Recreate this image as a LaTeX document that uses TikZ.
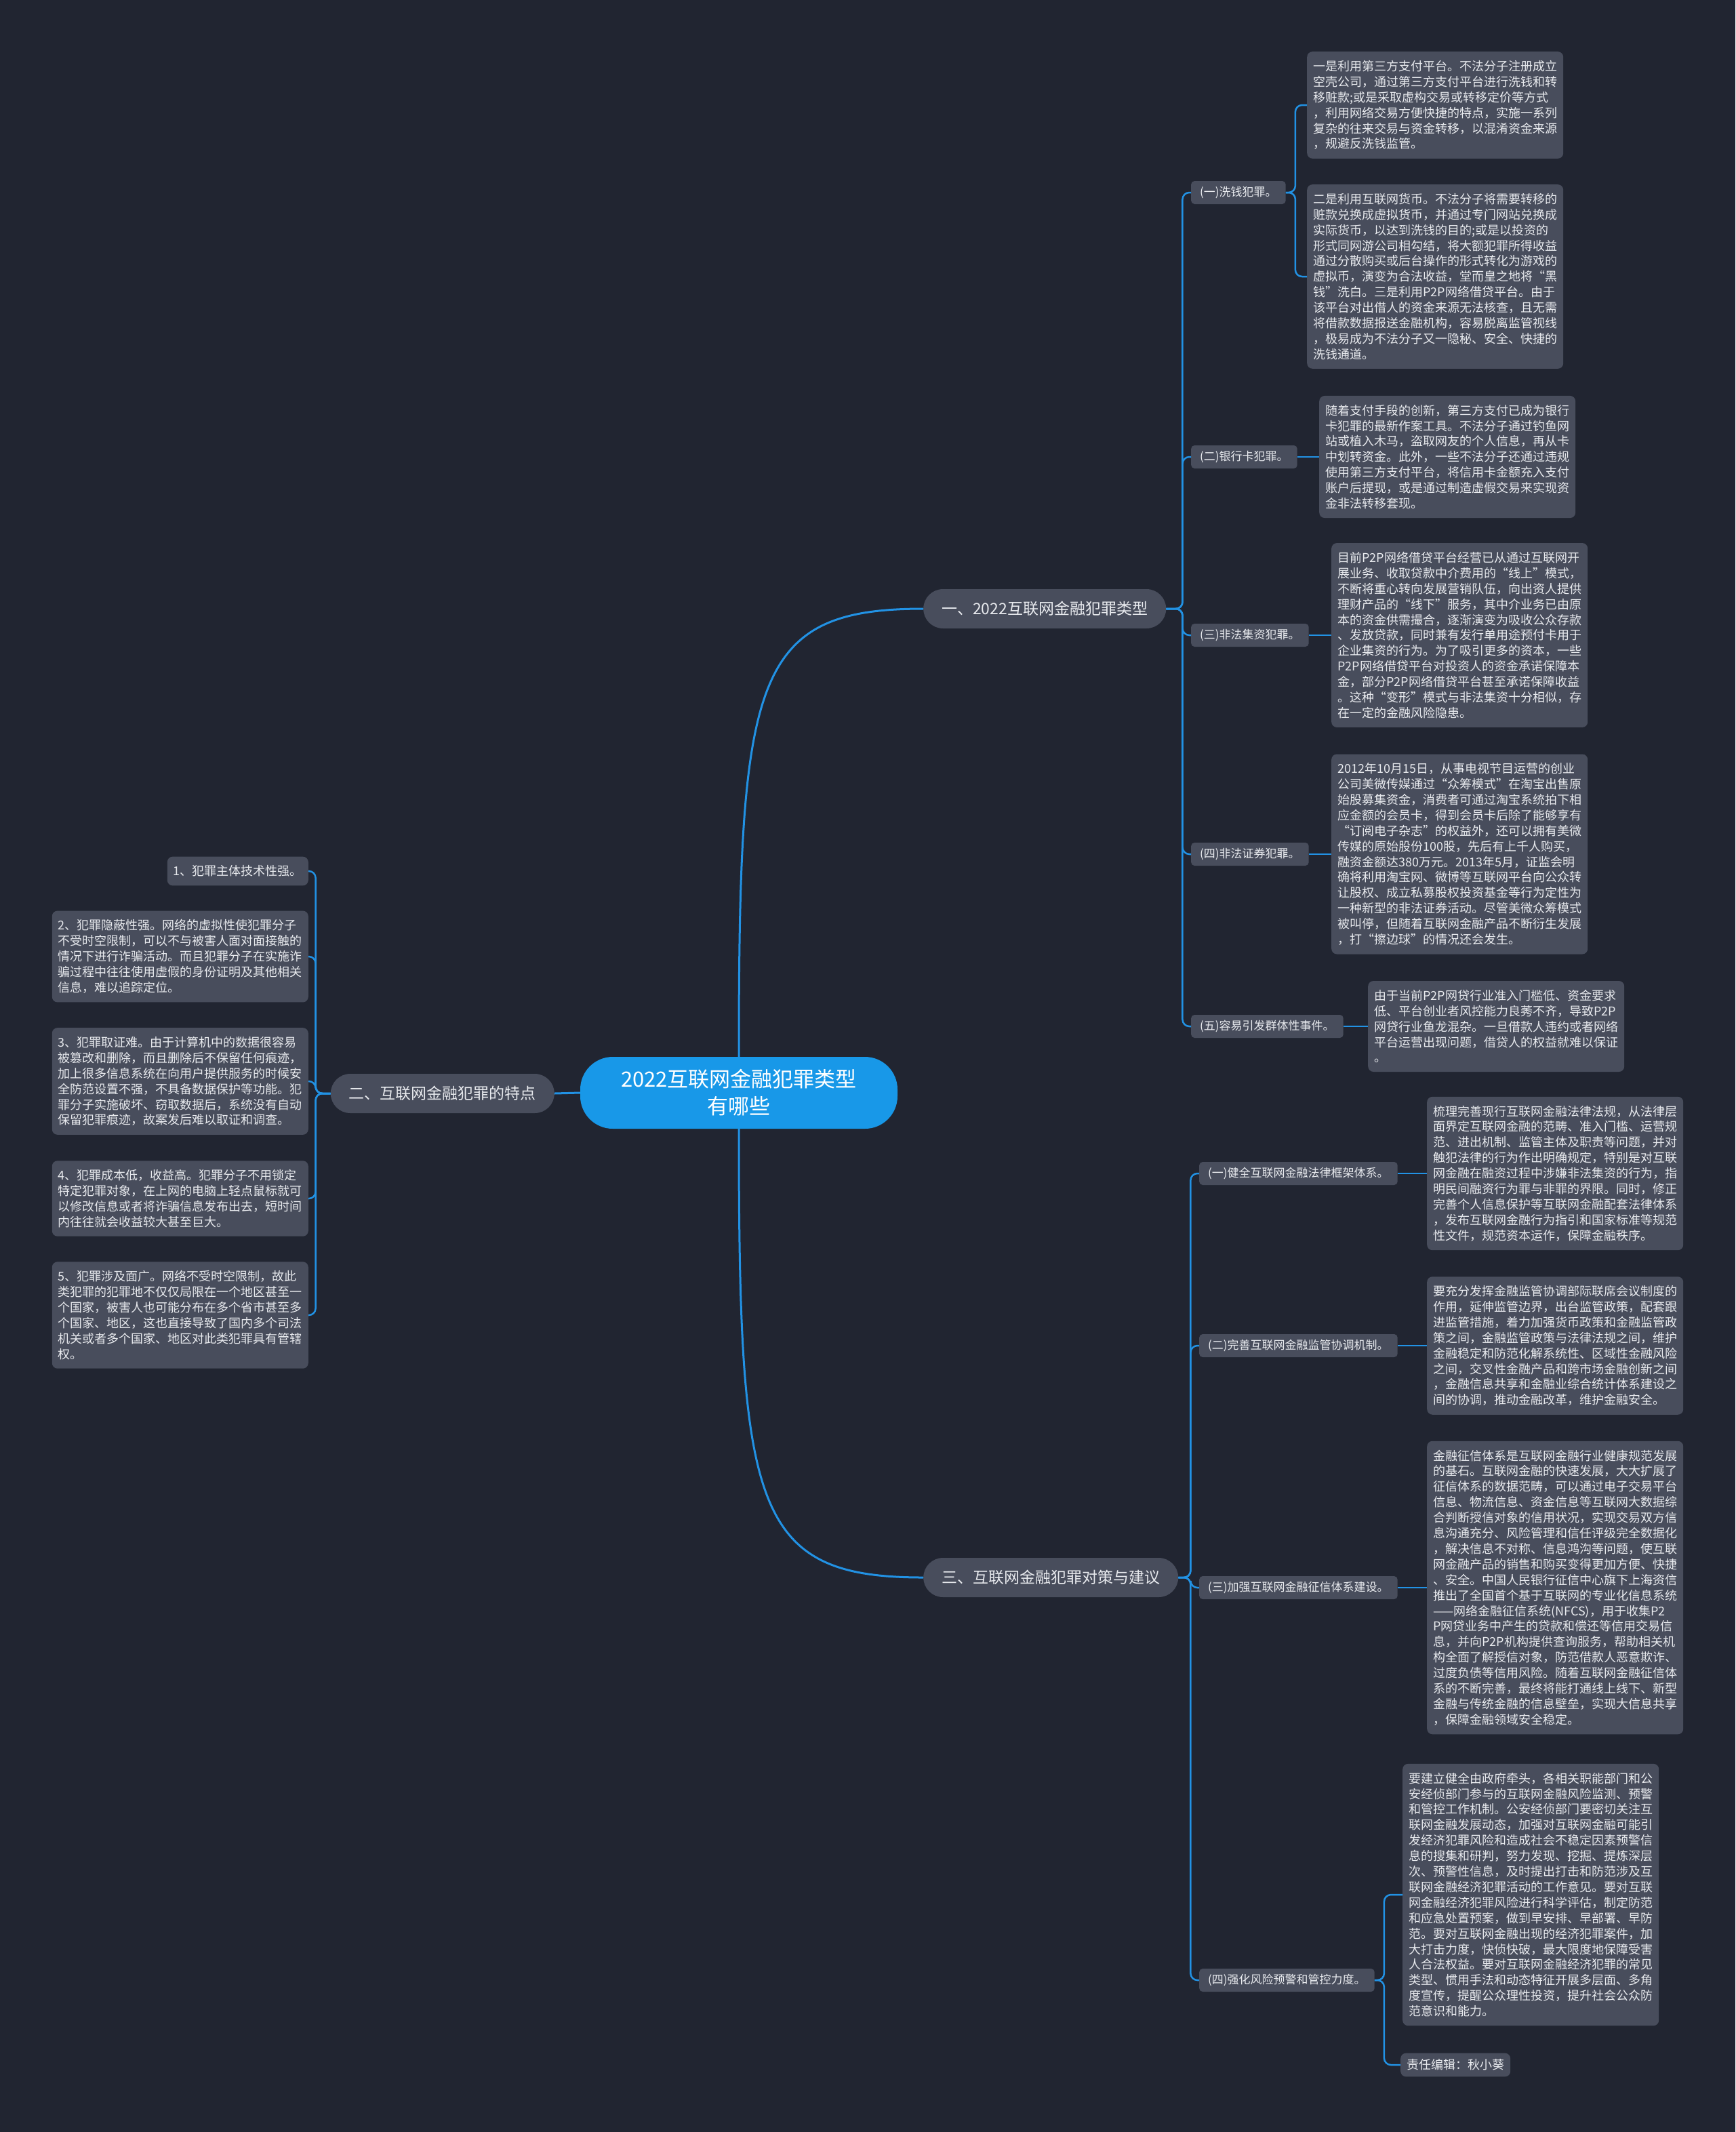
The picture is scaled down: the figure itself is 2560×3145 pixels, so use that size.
\documentclass[tikz,border=0pt]{standalone}
\usepackage{fontspec}
\setmainfont{Noto Sans CJK SC}

\definecolor{bgdark}{RGB}{33,37,49}
\definecolor{boxgray}{RGB}{72,77,92}
\definecolor{rootblue}{RGB}{24,152,232}
\definecolor{linkblue}{RGB}{34,146,228}
\definecolor{txtlight}{RGB}{232,234,238}

\tikzset{
  root/.style={fill=rootblue, text=white, rounded corners=48pt,
    minimum width=468pt, minimum height=106pt, align=center,
    font=\fontsize{31}{40}\selectfont},
  branch/.style={fill=boxgray, text=txtlight, rounded corners=29pt,
    minimum height=58pt, inner xsep=27pt, font=\fontsize{23}{28}\selectfont},
  topic/.style={fill=boxgray, text=txtlight, rounded corners=5pt,
    minimum height=34pt, inner xsep=13pt, font=\fontsize{17}{20}\selectfont},
  card/.style={fill=boxgray, text=txtlight, rounded corners=8pt,
    inner xsep=9pt, inner ysep=13pt, align=left,
    font=\fontsize{18}{22.9}\selectfont},
  leaf/.style={card, text width=360pt},
  link/.style={draw=linkblue, line width=3pt},
  twig/.style={draw=linkblue, line width=2.5pt, rounded corners=10pt},
}

\begin{document}
\begin{tikzpicture}[x=1pt,y=-1pt]

  % ---- canvas ----
  \fill[bgdark] (0,0) rectangle (2560,3145);
  \useasboundingbox (0,0) rectangle (2560,3145);

  % ---- centre and main branches ----
  \node[root] (root) at (1090,1612) {2022互联网金融犯罪类型\\有哪些};
  \node[branch, anchor=west] (types) at (1362,898) {一、2022互联网金融犯罪类型};
  \node[branch, anchor=east] (traits) at (818,1613) {二、互联网金融犯罪的特点};
  \node[branch, anchor=west] (advice) at (1362,2327) {三、互联网金融犯罪对策与建议};

  \draw[link] (root.north) .. controls (1090,1000) and (1110,898) .. (types.west);
  \draw[link] (root.south) .. controls (1090,2225) and (1110,2327) .. (advice.west);
  \draw[link] (root.west) -- (traits.east);

  % ---- branch one: crime types ----
  \node[topic, anchor=west] (launder) at (1757,284) {(一)洗钱犯罪。};
  \node[topic, anchor=west] (card) at (1757,674) {(二)银行卡犯罪。};
  \node[topic, anchor=west] (fund) at (1757,937) {(三)非法集资犯罪。};
  \node[topic, anchor=west] (stock) at (1757,1260) {(四)非法证券犯罪。};
  \node[topic, anchor=west] (crowd) at (1757,1514) {(五)容易引发群体性事件。};

  \node[leaf, anchor=west] (launderA) at (1928,155) {一是利用第三方支付平台。不法分子注册成立\\
空壳公司，通过第三方支付平台进行洗钱和转\\
移赃款;或是采取虚构交易或转移定价等方式\\
，利用网络交易方便快捷的特点，实施一系列\\
复杂的往来交易与资金转移，以混淆资金来源\\
，规避反洗钱监管。};
  \node[leaf, anchor=west] (launderB) at (1928,408) {二是利用互联网货币。不法分子将需要转移的\\
赃款兑换成虚拟货币，并通过专门网站兑换成\\
实际货币，以达到洗钱的目的;或是以投资的\\
形式同网游公司相勾结，将大额犯罪所得收益\\
通过分散购买或后台操作的形式转化为游戏的\\
虚拟币，演变为合法收益，堂而皇之地将“黑\\
钱”洗白。三是利用P2P网络借贷平台。由于\\
该平台对出借人的资金来源无法核查，且无需\\
将借款数据报送金融机构，容易脱离监管视线\\
，极易成为不法分子又一隐秘、安全、快捷的\\
洗钱通道。};
  \node[leaf, anchor=west] (cardText) at (1946,674) {随着支付手段的创新，第三方支付已成为银行\\
卡犯罪的最新作案工具。不法分子通过钓鱼网\\
站或植入木马，盗取网友的个人信息，再从卡\\
中划转资金。此外，一些不法分子还通过违规\\
使用第三方支付平台，将信用卡金额充入支付\\
账户后提现，或是通过制造虚假交易来实现资\\
金非法转移套现。};
  \node[leaf, anchor=west] (fundText) at (1964,937) {目前P2P网络借贷平台经营已从通过互联网开\\
展业务、收取贷款中介费用的“线上”模式，\\
不断将重心转向发展营销队伍，向出资人提供\\
理财产品的“线下”服务，其中介业务已由原\\
本的资金供需撮合，逐渐演变为吸收公众存款\\
、发放贷款，同时兼有发行单用途预付卡用于\\
企业集资的行为。为了吸引更多的资本，一些\\
P2P网络借贷平台对投资人的资金承诺保障本\\
金，部分P2P网络借贷平台甚至承诺保障收益\\
。这种“变形”模式与非法集资十分相似，存\\
在一定的金融风险隐患。};
  \node[leaf, anchor=west] (stockText) at (1964,1260) {2012年10月15日，从事电视节目运营的创业\\
公司美微传媒通过“众筹模式”在淘宝出售原\\
始股募集资金，消费者可通过淘宝系统拍下相\\
应金额的会员卡，得到会员卡后除了能够享有\\
“订阅电子杂志”的权益外，还可以拥有美微\\
传媒的原始股份100股，先后有上千人购买，\\
融资金额达380万元。2013年5月，证监会明\\
确将利用淘宝网、微博等互联网平台向公众转\\
让股权、成立私募股权投资基金等行为定性为\\
一种新型的非法证券活动。尽管美微众筹模式\\
被叫停，但随着互联网金融产品不断衍生发展\\
，打“擦边球”的情况还会发生。};
  \node[leaf, anchor=west] (crowdText) at (2018,1514) {由于当前P2P网贷行业准入门槛低、资金要求\\
低、平台创业者风控能力良莠不齐，导致P2P\\
网贷行业鱼龙混杂。一旦借款人违约或者网络\\
平台运营出现问题，借贷人的权益就难以保证\\
。};

  \draw[twig] (types.east) -- ++(24,0) |- (launder.west);
  \draw[twig] (types.east) -- ++(24,0) |- (card.west);
  \draw[twig] (types.east) -- ++(24,0) |- (fund.west);
  \draw[twig] (types.east) -- ++(24,0) |- (stock.west);
  \draw[twig] (types.east) -- ++(24,0) |- (crowd.west);
  \draw[twig] (launder.east) -- ++(14,0) |- (launderA.west);
  \draw[twig] (launder.east) -- ++(14,0) |- (launderB.west);
  \draw[twig] (card.east) -- (cardText.west);
  \draw[twig] (fund.east) -- (fundText.west);
  \draw[twig] (stock.east) -- (stockText.west);
  \draw[twig] (crowd.east) -- (crowdText.west);

  % ---- branch two: features ----
  \node[card, anchor=east] (trait1) at (455,1285) {1、犯罪主体技术性强。};
  \node[leaf, anchor=east] (trait2) at (455,1411) {2、犯罪隐蔽性强。网络的虚拟性使犯罪分子\\
不受时空限制，可以不与被害人面对面接触的\\
情况下进行诈骗活动。而且犯罪分子在实施诈\\
骗过程中往往使用虚假的身份证明及其他相关\\
信息，难以追踪定位。};
  \node[leaf, anchor=east] (trait3) at (455,1595) {3、犯罪取证难。由于计算机中的数据很容易\\
被篡改和删除，而且删除后不保留任何痕迹，\\
加上很多信息系统在向用户提供服务的时候安\\
全防范设置不强，不具备数据保护等功能。犯\\
罪分子实施破坏、窃取数据后，系统没有自动\\
保留犯罪痕迹，故案发后难以取证和调查。};
  \node[leaf, anchor=east] (trait4) at (455,1768) {4、犯罪成本低，收益高。犯罪分子不用锁定\\
特定犯罪对象，在上网的电脑上轻点鼠标就可\\
以修改信息或者将诈骗信息发布出去，短时间\\
内往往就会收益较大甚至巨大。};
  \node[leaf, anchor=east] (trait5) at (455,1940) {5、犯罪涉及面广。网络不受时空限制，故此\\
类犯罪的犯罪地不仅仅局限在一个地区甚至一\\
个国家，被害人也可能分布在多个省市甚至多\\
个国家、地区，这也直接导致了国内多个司法\\
机关或者多个国家、地区对此类犯罪具有管辖\\
权。};

  \draw[twig] (traits.west) -- ++(-22,0) |- (trait1.east);
  \draw[twig] (traits.west) -- ++(-22,0) |- (trait2.east);
  \draw[twig] (traits.west) -- ++(-22,0) |- (trait3.east);
  \draw[twig] (traits.west) -- ++(-22,0) |- (trait4.east);
  \draw[twig] (traits.west) -- ++(-22,0) |- (trait5.east);

  % ---- branch three: countermeasures ----
  \node[topic, anchor=west] (law) at (1769,1731) {(一)健全互联网金融法律框架体系。};
  \node[topic, anchor=west] (supervise) at (1769,1985) {(二)完善互联网金融监管协调机制。};
  \node[topic, anchor=west] (credit) at (1769,2342) {(三)加强互联网金融征信体系建设。};
  \node[topic, anchor=west] (warn) at (1769,2921) {(四)强化风险预警和管控力度。};

  \node[leaf, anchor=west] (lawText) at (2105,1731) {梳理完善现行互联网金融法律法规，从法律层\\
面界定互联网金融的范畴、准入门槛、运营规\\
范、进出机制、监管主体及职责等问题，并对\\
触犯法律的行为作出明确规定，特别是对互联\\
网金融在融资过程中涉嫌非法集资的行为，指\\
明民间融资行为罪与非罪的界限。同时，修正\\
完善个人信息保护等互联网金融配套法律体系\\
，发布互联网金融行为指引和国家标准等规范\\
性文件，规范资本运作，保障金融秩序。};
  \node[leaf, anchor=west] (superviseText) at (2105,1985) {要充分发挥金融监管协调部际联席会议制度的\\
作用，延伸监管边界，出台监管政策，配套跟\\
进监管措施，着力加强货币政策和金融监管政\\
策之间，金融监管政策与法律法规之间，维护\\
金融稳定和防范化解系统性、区域性金融风险\\
之间，交叉性金融产品和跨市场金融创新之间\\
，金融信息共享和金融业综合统计体系建设之\\
间的协调，推动金融改革，维护金融安全。};
  \node[leaf, anchor=west] (creditText) at (2105,2342) {金融征信体系是互联网金融行业健康规范发展\\
的基石。互联网金融的快速发展，大大扩展了\\
征信体系的数据范畴，可以通过电子交易平台\\
信息、物流信息、资金信息等互联网大数据综\\
合判断授信对象的信用状况，实现交易双方信\\
息沟通充分、风险管理和信任评级完全数据化\\
，解决信息不对称、信息鸿沟等问题，使互联\\
网金融产品的销售和购买变得更加方便、快捷\\
、安全。中国人民银行征信中心旗下上海资信\\
推出了全国首个基于互联网的专业化信息系统\\
——网络金融征信系统(NFCS)，用于收集P2\\
P网贷业务中产生的贷款和偿还等信用交易信\\
息，并向P2P机构提供查询服务，帮助相关机\\
构全面了解授信对象，防范借款人恶意欺诈、\\
过度负债等信用风险。随着互联网金融征信体\\
系的不断完善，最终将能打通线上线下、新型\\
金融与传统金融的信息壁垒，实现大信息共享\\
，保障金融领域安全稳定。};
  \node[leaf, anchor=west] (warnText) at (2069,2795) {要建立健全由政府牵头，各相关职能部门和公\\
安经侦部门参与的互联网金融风险监测、预警\\
和管控工作机制。公安经侦部门要密切关注互\\
联网金融发展动态，加强对互联网金融可能引\\
发经济犯罪风险和造成社会不稳定因素预警信\\
息的搜集和研判，努力发现、挖掘、提炼深层\\
次、预警性信息，及时提出打击和防范涉及互\\
联网金融经济犯罪活动的工作意见。要对互联\\
网金融经济犯罪风险进行科学评估，制定防范\\
和应急处置预案，做到早安排、早部署、早防\\
范。要对互联网金融出现的经济犯罪案件，加\\
大打击力度，快侦快破，最大限度地保障受害\\
人合法权益。要对互联网金融经济犯罪的常见\\
类型、惯用手法和动态特征开展多层面、多角\\
度宣传，提醒公众理性投资，提升社会公众防\\
范意识和能力。};
  \node[card, anchor=west, inner ysep=9pt] (editor) at (2066,3046) {责任编辑：秋小葵};

  \draw[twig] (advice.east) -- ++(18,0) |- (law.west);
  \draw[twig] (advice.east) -- ++(18,0) |- (supervise.west);
  \draw[twig] (advice.east) -- ++(18,0) |- (credit.west);
  \draw[twig] (advice.east) -- ++(18,0) |- (warn.west);
  \draw[twig] (law.east) -- (lawText.west);
  \draw[twig] (supervise.east) -- (superviseText.west);
  \draw[twig] (credit.east) -- (creditText.west);
  \draw[twig] (warn.east) -- ++(14,0) |- (warnText.west);
  \draw[twig] (warn.east) -- ++(14,0) |- (editor.west);

\end{tikzpicture}
\end{document}
